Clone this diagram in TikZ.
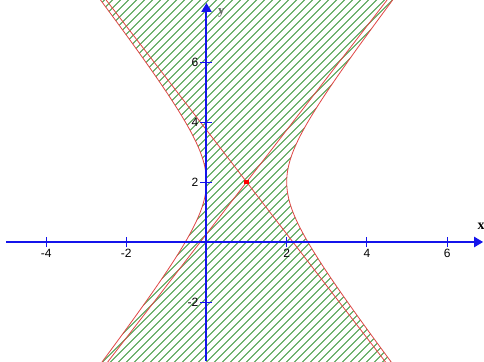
\documentclass[tikz,border=0pt]{standalone}
\usepackage{fontspec}
\setmainfont{Liberation Sans}
\newfontfamily\seriffont{Liberation Serif}
\usetikzlibrary{arrows.meta}
\definecolor{axisblue}{RGB}{20,20,235}
\definecolor{curvered}{RGB}{225,70,70}
\definecolor{hatchgreen}{RGB}{60,150,60}
\tikzset{
  axisline/.style={axisblue, line width=2pt, -{Triangle[length=9pt,width=10pt]}},
  tickmark/.style={axisblue, line width=0.9pt},
  ticklabel/.style={font=\fontsize{12}{12}\selectfont, inner sep=0pt},
  curve/.style={curvered, line width=0.8pt},
  hatchline/.style={hatchgreen, line width=0.75pt},
  reddot/.style={fill=red, draw=none, minimum size=4.5pt, inner sep=0pt},
}
\begin{document}
\begin{tikzpicture}[x=40.1pt,y=30pt]
\def\xl{-5.1496}
\def\xr{6.9202}
\def\yb{-3.9667}
\def\yt{8.0667}
\useasboundingbox[fill=white] (\xl,\yb) rectangle (\xr,\yt);
\begin{scope}
  \clip (\xl,\yb) rectangle (\xr,\yt);
  % hatched region between the branches
  \begin{scope}
    \clip plot[domain=-4.2:8.3, samples=120, variable=\t] ({1-sqrt(1+(\t-2)^2/3)},\t)
      -- plot[domain=8.3:-4.2, samples=120, variable=\t] ({1+sqrt(1+(\t-2)^2/3)},\t) -- cycle;
    \foreach \c in {-640,-632,...,640}
      \draw[hatchline] ({\c pt-320pt},-320pt) -- ({\c pt+320pt},320pt);
  \end{scope}
  % hyperbola branches
  \draw[curve] plot[domain=-4.2:8.3, samples=120, variable=\t] ({1-sqrt(1+(\t-2)^2/3)},\t);
  \draw[curve] plot[domain=-4.2:8.3, samples=120, variable=\t] ({1+sqrt(1+(\t-2)^2/3)},\t);
  % asymptotes through the centre
  \coordinate (C) at (1,2);
  \draw[curve] (C) -- ++(6,10.392) (C) -- ++(-6,-10.392);
  \draw[curve] (C) -- ++(6,-10.392) (C) -- ++(-6,10.392);
\end{scope}
% axes
\coordinate (xs) at (-4.99,0);
\coordinate (xe) at (6.90,0);
\coordinate (ys) at (0,\yb);
\coordinate (ye) at (0,7.97);
\draw[axisline] (xs) -- (xe);
\draw[axisline] (ys) -- (ye);
% ticks and labels
\foreach \v in {-4,-2,2,4,6} {
  \draw[tickmark] (\v,0) ++(0,-5pt) -- ++(0,10pt);
  \node[ticklabel, anchor=north] (xt\v) at ([yshift=-7pt]\v,0) {\v};
}
\foreach \v in {-2,2,4,6} {
  \draw[tickmark] (0,\v) ++(-6pt,0) -- ++(12pt,0);
  \node[ticklabel, anchor=east] (yt\v) at ([xshift=-8pt]0,\v) {\v};
}
\node[font=\seriffont\bfseries\fontsize{14}{14}\selectfont, inner sep=0pt] (xlab) at (6.85,0.53) {x};
\node[font=\seriffont\bfseries\fontsize{13}{13}\selectfont, text=black!60, inner sep=0pt] (ylab) at (0.37,7.62) {y};
\node[reddot] (dot) at (C) {};
\end{tikzpicture}
\end{document}
